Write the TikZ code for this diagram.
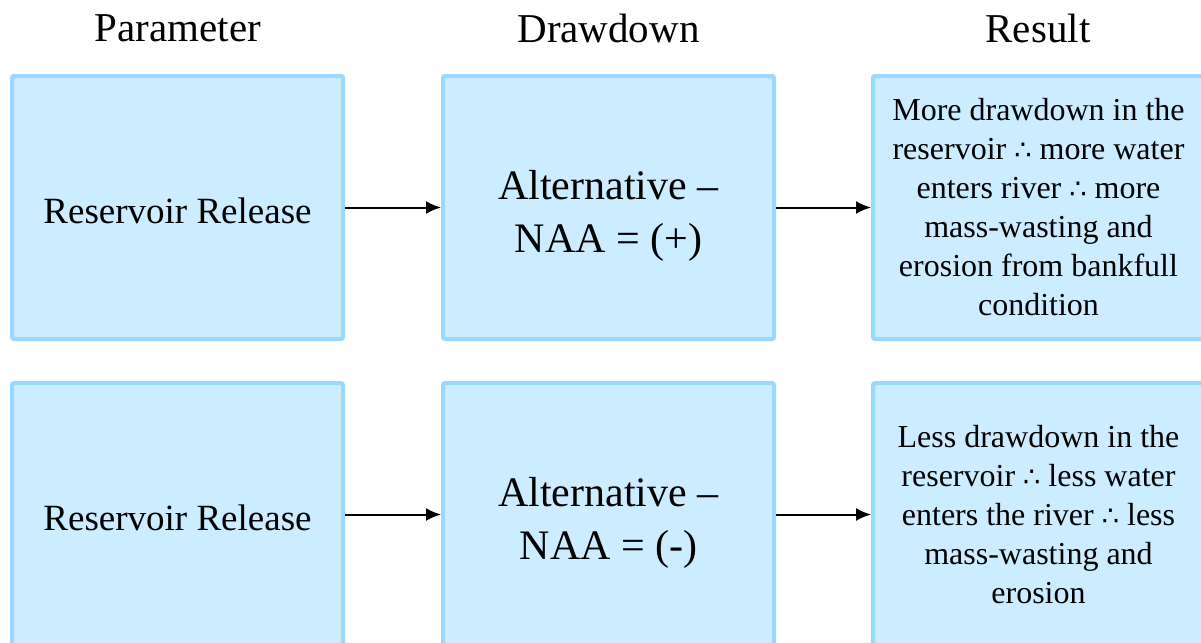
\documentclass[tikz,border=0pt]{standalone}
\usepackage{fontspec}
\setmainfont{Liberation Serif}
\newfontfamily\dvsym{DejaVu Sans}[Scale=0.85]
\usetikzlibrary{arrows.meta}
\definecolor{bfill}{RGB}{204,236,255}
\definecolor{bbord}{RGB}{153,217,255}
\newcommand{\thf}{{\dvsym ∴}}
\begin{document}
\begin{tikzpicture}[x=0.5pt,y=-0.5pt,
  box/.style={draw=bbord, fill=bfill, line width=2pt, minimum width=165.5pt, minimum height=131.5pt, inner sep=0pt, rounded corners=1pt, align=center},
  txt/.style={align=center, inner sep=0pt},
  head/.style={font=\fontsize{20.5}{24}\selectfont, inner sep=0pt},
  param/.style={font=\fontsize{18.5}{22}\selectfont},
  alt/.style={font=\fontsize{21}{26.5}\selectfont},
  res/.style={font=\fontsize{16}{19.5}\selectfont},
  arr/.style={-{Latex[length=7.5pt,width=6.5pt]}, line width=1pt}]
\useasboundingbox (0,0) rectangle (1201,643);
\node[head] (h1) at (178,28) {Parameter};
\node[head] (h2) at (608.5,28) {Drawdown};
\node[head] (h3) at (1038,28) {Result};
\node[box] (p1) at (177.5,207.5) {};
\node[box] (d1) at (608.5,207.5) {};
\node[box,res] (r1) at (1038.5,207.5) {More drawdown in the\\reservoir \thf{} more water\\enters river \thf{} more\\mass-wasting and\\erosion from bankfull\\condition};
\node[box] (p2) at (177.5,514.5) {};
\node[box] (d2) at (608.5,514.5) {};
\node[box,res] (r2) at (1038.5,514.5) {Less drawdown in the\\reservoir \thf{} less water\\enters the river \thf{} less\\mass-wasting and\\erosion};
\node[txt,param] (p1t) at ([yshift=-1.5pt]p1.center) {Reservoir Release};
\node[txt,alt] (d1t) at ([yshift=-4pt]d1.center) {Alternative –\\NAA = (+)};
\node[txt,param] (p2t) at ([yshift=-1.5pt]p2.center) {Reservoir Release};
\node[txt,alt] (d2t) at ([yshift=-4pt]d2.center) {Alternative –\\NAA = (-)};
\draw[arr] (p1) -- (d1);
\draw[arr] (d1) -- (r1);
\draw[arr] (p2) -- (d2);
\draw[arr] (d2) -- (r2);
\end{tikzpicture}
\end{document}
